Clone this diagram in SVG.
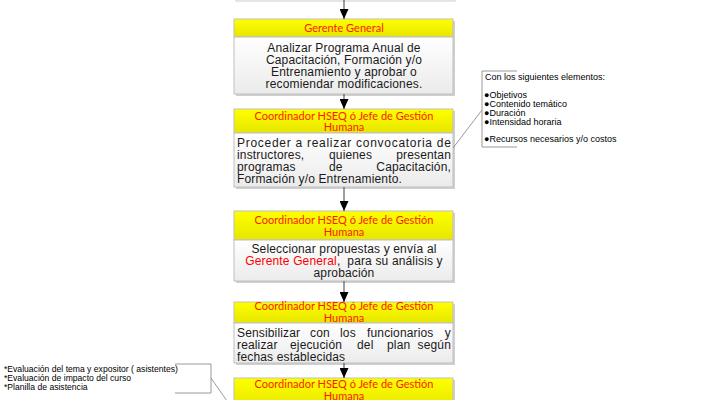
<svg xmlns="http://www.w3.org/2000/svg" width="715" height="400" viewBox="0 0 715 400">
<defs>
<linearGradient id="gY" x1="0" y1="0" x2="0" y2="1"><stop offset="0" stop-color="#ffff00"/><stop offset="1" stop-color="#e6e600"/></linearGradient>
<linearGradient id="gW" x1="0" y1="0" x2="0" y2="1"><stop offset="0" stop-color="#ffffff"/><stop offset="1" stop-color="#ebebeb"/></linearGradient>
<marker id="ah" markerWidth="10" markerHeight="9" refX="10" refY="4.5" orient="auto" markerUnits="userSpaceOnUse"><path d="M0,0 L10,4.5 L0,9 Z" fill="#000"/></marker>
</defs>
<style>
.sh{fill:#b0b0b0;opacity:.6}
.hd{fill:url(#gY);stroke:#bfbfbf;stroke-width:1}
.bd{fill:url(#gW);stroke:#bfbfbf;stroke-width:1}
.ht{font-family:Lato,"Open Sans",sans-serif;font-size:11px;fill:#ff1a00;text-anchor:middle}
.bt{font-family:"Liberation Sans",Arial,sans-serif;font-size:12px;letter-spacing:.15px;fill:#1a1a1a}
.c{text-anchor:middle}
.e{text-anchor:end}
.red{fill:#ff0000}
.nt{font-family:"Liberation Sans",Arial,sans-serif;font-size:9px;fill:#000}
.nl{font-family:"Liberation Sans",Arial,sans-serif;font-size:8.6px;fill:#000}
.ar{stroke:#404040;stroke-width:1;fill:none;marker-end:url(#ah)}
.ln{stroke:#808080;stroke-width:.8;fill:none}
</style>
<g id="box0">
<rect x="236" y="-40" width="219" height="41" fill="#fafafa" stroke="#d0d0d0"/>
</g>
<g id="box1">
<rect class="sh" x="236" y="21" width="219" height="75"/>
<rect class="hd" x="234" y="19" width="219" height="18"/>
<rect class="bd" x="234" y="37" width="219" height="57"/>
<text class="ht" x="344" y="32">Gerente General</text>
<text class="bt c" x="344" y="52">Analizar Programa Anual de</text>
<text class="bt c" x="344" y="64">Capacitación, Formación y/o</text>
<text class="bt c" x="344" y="76">Entrenamiento y aprobar o</text>
<text class="bt c" x="344" y="88">recomiendar modificaciones.</text>
</g>
<g id="box2">
<rect class="sh" x="236" y="111" width="219" height="78"/>
<rect class="hd" x="234" y="109" width="219" height="24"/>
<rect class="bd" x="234" y="133" width="219" height="54"/>
<text class="ht" x="344" y="119.5">Coordinador HSEQ ó Jefe de Gestión</text>
<text class="ht" x="344" y="131">Humana</text>
<text class="bt" x="237" y="146.5" textLength="214" lengthAdjust="spacing">Proceder a realizar convocatoria de</text>
<text class="bt" y="158.5"><tspan x="237">instructores,</tspan><tspan x="329">quienes</tspan></text>
<text class="bt e" x="451" y="158.5">presentan</text>
<text class="bt" y="170.5"><tspan x="237">programas</tspan><tspan x="329">de</tspan></text>
<text class="bt e" x="451" y="170.5">Capacitación,</text>
<text class="bt" x="237" y="182.5">Formación y/o Entrenamiento.</text>
</g>
<g id="box3">
<rect class="sh" x="236" y="213" width="219" height="70"/>
<rect class="hd" x="234" y="211" width="219" height="29"/>
<rect class="bd" x="234" y="240" width="219" height="41"/>
<text class="ht" x="344" y="224">Coordinador HSEQ ó Jefe de Gestión</text>
<text class="ht" x="344" y="236">Humana</text>
<text class="bt c" x="344" y="253">Seleccionar propuestas y envía al</text>
<text class="bt c" x="344" y="265" xml:space="preserve"><tspan class="red">Gerente General</tspan>,  para su análisis y</text>
<text class="bt c" x="344" y="277">aprobación</text>
</g>
<g id="box4">
<rect class="sh" x="236" y="304" width="219" height="61"/>
<rect class="hd" x="234" y="302" width="219" height="21"/>
<rect class="bd" x="234" y="323" width="219" height="40"/>
<text class="ht" x="344" y="309.5">Coordinador HSEQ ó Jefe de Gestión</text>
<text class="ht" x="344" y="321.5">Humana</text>
<text class="bt" y="337"><tspan x="237">Sensibilizar</tspan><tspan x="310">con</tspan><tspan x="340">los</tspan><tspan x="367">funcionarios</tspan></text>
<text class="bt e" x="451" y="337">y</text>
<text class="bt" y="349"><tspan x="237">realizar</tspan><tspan x="290">ejecución</tspan><tspan x="357">del</tspan><tspan x="387">plan</tspan></text>
<text class="bt e" x="451" y="349">según</text>
<text class="bt" x="237" y="361">fechas establecidas</text>
</g>
<g id="box5">
<rect class="sh" x="236" y="380" width="219" height="30"/>
<rect class="hd" x="234" y="378" width="219" height="30"/>
<text class="ht" x="344" y="388">Coordinador HSEQ ó Jefe de Gestión</text>
<text class="ht" x="344" y="399.5">Humana</text>
</g>
<g id="note1">
<path class="ln" d="M517,71 H482 V147 H517"/>
<text class="nt" x="485" y="80">Con los siguientes elementos:</text>
<text class="nt" x="484" y="97.5">●Objetivos</text>
<text class="nt" x="484" y="107">●Contenido temático</text>
<text class="nt" x="484" y="116">●Duración</text>
<text class="nt" x="484" y="125">●Intensidad horaria</text>
<text class="nt" x="484" y="142">●Recursos necesarios y/o costos</text>
</g>
<g id="note2">
<path class="ln" d="M175,364 H211 V393 H175"/>
<text class="nl" x="4" y="372">*Evaluación del tema y expositor ( asistentes)</text>
<text class="nl" x="4" y="381">*Evaluación de impacto del curso</text>
<text class="nl" x="4" y="390">*Planilla de asistencia</text>
</g>
<g id="connectors">
<line class="ar" x1="344" y1="0" x2="344" y2="19"/>
<line class="ar" x1="344" y1="94" x2="344" y2="109"/>
<line class="ar" x1="344" y1="187" x2="344" y2="211"/>
<line class="ar" x1="344" y1="281" x2="344" y2="302"/>
<line class="ar" x1="344" y1="363" x2="344" y2="378"/>
<line class="ln" x1="453" y1="148" x2="482" y2="110"/>
<line class="ln" x1="211" y1="378" x2="234" y2="411"/>
</g>
</svg>
